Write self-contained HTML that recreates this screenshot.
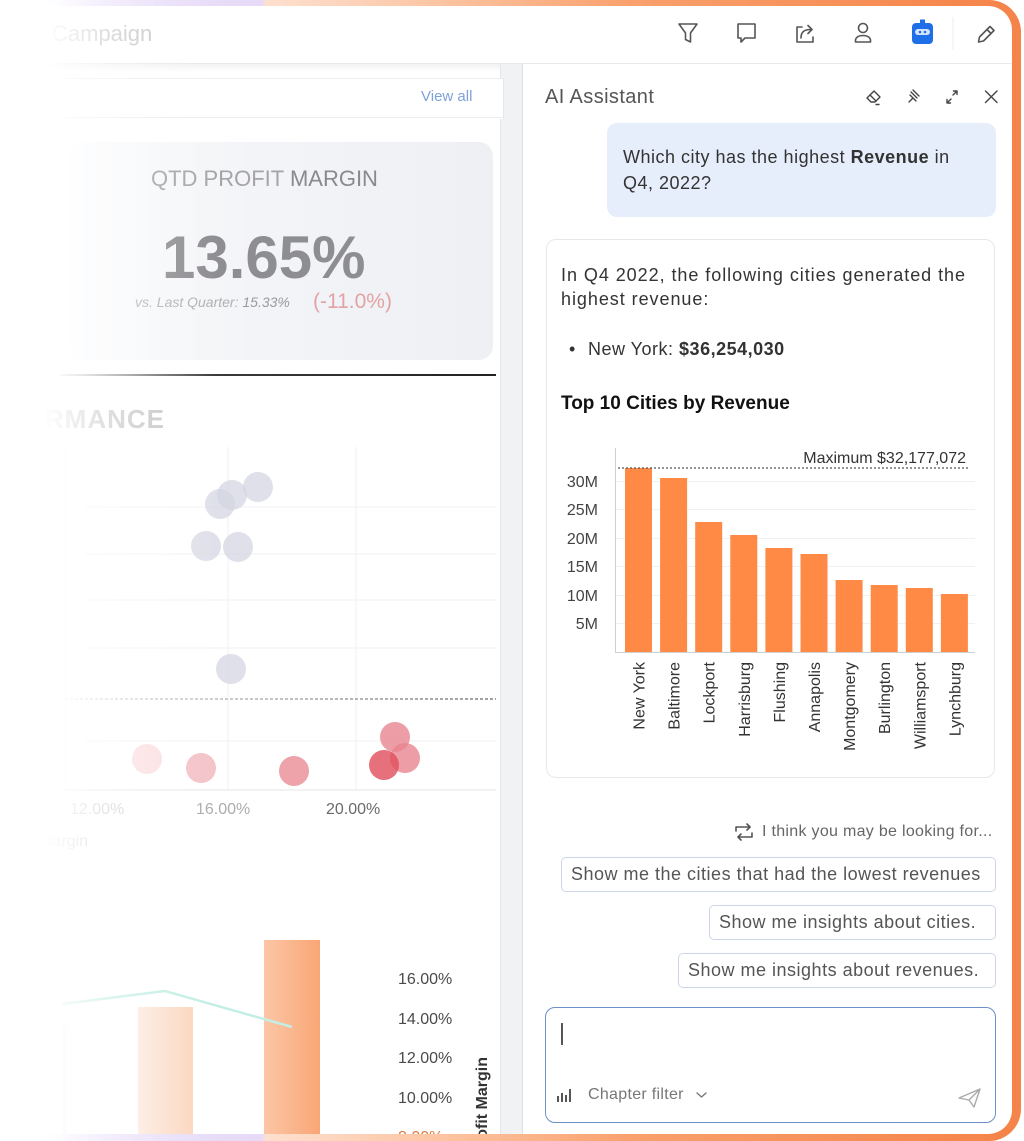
<!DOCTYPE html>
<html>
<head>
<meta charset="utf-8">
<style>
html,body{margin:0;padding:0;}
body{width:1024px;height:1141px;position:relative;overflow:hidden;background:#fff;font-family:"Liberation Sans",Arial,sans-serif;color:#333;}
.a{position:absolute;white-space:nowrap;}
.btn{position:absolute;height:35px;box-sizing:border-box;border:1.5px solid #cdd6e8;border-radius:5px;background:#fff;font-size:18px;letter-spacing:0.5px;color:#555;line-height:32px;padding-left:9px;white-space:nowrap;}
</style>
</head>
<body>

<!-- header lines -->
<div class="a" style="left:0;top:63px;width:1012px;height:1px;background:#e9e9eb;"></div>
<div class="a" style="left:0;top:64px;width:522px;height:8px;background:linear-gradient(180deg,rgba(0,0,0,0.05),rgba(0,0,0,0));"></div>

<!-- left header title -->
<div class="a" style="left:52px;top:19px;font-size:22px;line-height:30px;color:#c6c6c8;">Campaign</div>

<!-- scrollbar strip + separator -->
<div class="a" style="left:500px;top:64px;width:22px;height:1072px;background:#f1f2f4;border-left:1px solid #e6e7ea;"></div>
<div class="a" style="left:522px;top:64px;width:1px;height:1072px;background:#dedfe2;"></div>

<!-- View all card -->
<div class="a" style="left:60px;top:78px;width:443px;height:40px;border-top:1px solid #eceef1;border-right:1px solid #e6e7ea;background:#fff;"></div>
<div class="a" style="left:60px;top:117px;width:443px;height:1px;background:#ecedf0;"></div>
<div class="a" style="left:421px;top:87px;font-size:15px;line-height:20px;color:#7ea1d8;">View all</div>

<!-- KPI card -->
<div class="a" style="left:70px;top:142px;width:423px;height:218px;border-radius:14px;background:linear-gradient(90deg,#fafbfc 0%,#f3f4f7 45%,#eef0f4 100%);"></div>
<div class="a" style="left:151px;top:165px;font-size:22px;line-height:28px;color:#a4a4a6;">QTD PROFIT <span style="color:#8a8a8c;">MARGIN</span></div>
<div class="a" style="left:162px;top:223px;font-size:60px;line-height:70px;font-weight:bold;color:#8e8e92;">13.65%</div>
<div class="a" style="left:135px;top:293px;font-size:14px;line-height:18px;font-style:italic;color:#b0b0b2;">vs. Last Quarter: <span style="color:#9a9a9c;">15.33%</span></div>
<div class="a" style="left:313px;top:289px;font-size:21px;line-height:26px;color:#e3a3a5;">(-11.0%)</div>

<!-- dark divider -->
<div class="a" style="left:60px;top:374px;width:436px;height:2px;background:linear-gradient(90deg,#cfcfcf,#3a3a3a 35%,#222);"></div>

<!-- PERFORMANCE (clipped) -->
<div class="a" style="left:0;top:400px;width:200px;height:36px;overflow:hidden;">
  <div class="a" style="right:35px;top:4px;font-size:26px;line-height:30px;font-weight:bold;letter-spacing:1px;color:#c8c8ca;">PERFORMANCE</div>
</div>

<!-- Left charts -->
<svg class="a" style="left:0;top:0;" width="522" height="1141" viewBox="0 0 522 1141">
  <g stroke="#f2f2f4" stroke-width="1">
    <line x1="65" y1="447" x2="65" y2="790"/>
    <line x1="228" y1="447" x2="228" y2="790"/>
    <line x1="356" y1="447" x2="356" y2="790"/>
    <line x1="85" y1="507" x2="496" y2="507"/>
    <line x1="85" y1="554" x2="496" y2="554"/>
    <line x1="85" y1="600" x2="496" y2="600"/>
    <line x1="85" y1="648" x2="496" y2="648"/>
    <line x1="85" y1="741" x2="496" y2="741"/>
  </g>
  <line x1="65" y1="790" x2="496" y2="790" stroke="#e4e4e6" stroke-width="1"/>
  <defs>
    <linearGradient id="dg" x1="65" y1="0" x2="496" y2="0" gradientUnits="userSpaceOnUse">
      <stop offset="0" stop-color="#d8d8d8"/>
      <stop offset="1" stop-color="#666"/>
    </linearGradient>
    <linearGradient id="b2" x1="0" y1="0" x2="1" y2="0">
      <stop offset="0" stop-color="#fde9dc"/>
      <stop offset="1" stop-color="#fbd5bd"/>
    </linearGradient>
    <linearGradient id="b3" x1="0" y1="0" x2="1" y2="0">
      <stop offset="0" stop-color="#fcc6a6"/>
      <stop offset="1" stop-color="#f9a676"/>
    </linearGradient>
  </defs>
  <line x1="65" y1="699" x2="496" y2="699" stroke="url(#dg)" stroke-width="1.3" stroke-dasharray="3,2"/>
  <!-- gray circles -->
  <g fill="#d3d4e0" fill-opacity="0.72">
    <circle cx="258" cy="487" r="15"/>
    <circle cx="232" cy="495" r="15"/>
    <circle cx="220" cy="504" r="15"/>
    <circle cx="206" cy="546" r="15"/>
    <circle cx="238" cy="547" r="15"/>
    <circle cx="231" cy="669" r="15"/>
  </g>
  <!-- red circles -->
  <circle cx="147" cy="759" r="15" fill="#fbe0e2"/>
  <circle cx="201" cy="768" r="15" fill="#f4c3c8"/>
  <circle cx="294" cy="771" r="15" fill="#eea3ab"/>
  <circle cx="395" cy="737" r="15" fill="#e8858f" fill-opacity="0.8"/>
  <circle cx="405" cy="758" r="15" fill="#e8858f" fill-opacity="0.8"/>
  <circle cx="384" cy="765" r="15" fill="#e04d5c" fill-opacity="0.8"/>
  <!-- scatter x labels -->
  <g font-size="16" font-family="Liberation Sans, Arial, sans-serif">
    <text x="70" y="814" fill="#d0d0d2">12.00%</text>
    <text x="196" y="814" fill="#acacae">16.00%</text>
    <text x="326" y="814" fill="#6a6a6c">20.00%</text>
    <text x="88" y="846" fill="#d4d4d6" text-anchor="end">Profit Margin</text>
  </g>
  <!-- bottom chart -->
  <rect x="62" y="1025" width="5" height="110" fill="#f4f0fb"/>
  <rect x="138" y="1007" width="55" height="128" fill="url(#b2)"/>
  <rect x="264" y="940" width="56" height="195" fill="url(#b3)"/>
  <polyline points="62,1004 165,991 292,1027" fill="none" stroke="#c4eee5" stroke-width="2.5"/>
  <g font-size="16" font-family="Liberation Sans, Arial, sans-serif" fill="#4a4a4c">
    <text x="398" y="984">16.00%</text>
    <text x="398" y="1024">14.00%</text>
    <text x="398" y="1063">12.00%</text>
    <text x="398" y="1103">10.00%</text>
    <text x="398" y="1142" fill="#d9793f">8.00%</text>
  </g>
  <text transform="translate(487,1057) rotate(-90)" text-anchor="end" font-size="16" font-weight="bold" font-family="Liberation Sans, Arial, sans-serif" fill="#333">Profit Margin</text>
</svg>

<!-- Toolbar icons -->
<svg class="a" style="left:0;top:0;" width="1024" height="130" viewBox="0 0 1024 130">
  <g fill="none" stroke="#555" stroke-width="1.6" stroke-linejoin="round" stroke-linecap="round">
    <path d="M679 24 L697 24 L690.5 33 L690.5 42 L685.5 39.5 L685.5 33 Z"/>
    <path d="M738 24 H755 V38 H745 L741 42 V38 H738 Z"/>
    <path d="M802 27 H797 V42 H813 V37"/>
    <path d="M801 38 C801 32 804 29.5 811 29.5"/>
    <path d="M808 25.5 L812 29.5 L808 33.5"/>
    <circle cx="863" cy="28" r="4.5"/>
    <path d="M855.5 42 V40.5 C855.5 37.5 858.5 35.5 863 35.5 C867.5 35.5 870.5 37.5 870.5 40.5 V42 Z"/>
    <path d="M978.5 42 L979.5 37 L990 26.5 L994 30.5 L983.5 41 Z"/>
    <path d="M987 29.5 L991 33.5"/>
  </g>
  <rect x="920" y="19.5" width="5" height="4" fill="#1e6fe8"/>
  <rect x="912" y="23" width="21" height="21" rx="4" fill="#1e6fe8"/>
  <rect x="915" y="29" width="15" height="6" rx="3" fill="#d6e4fb"/>
  <circle cx="920" cy="32" r="1.3" fill="#1e6fe8"/>
  <circle cx="925" cy="32" r="1.3" fill="#1e6fe8"/>
  <line x1="953" y1="17" x2="953" y2="50" stroke="#ececee" stroke-width="1"/>
  <!-- AI assistant header icons -->
  <g fill="none" stroke="#444" stroke-width="1.4" stroke-linecap="round" stroke-linejoin="round">
    <path d="M867 98 L874 91 L880 97 L875 102 H871 Z"/>
    <path d="M870 95 L876 101"/>
    <path d="M876 104.5 H879"/>
    <path d="M911 92 L917 98 M913 90 L919 96 M910 95 L916 101 M909 102 L913 98"/>
    <path d="M947 103 L951 99 M947 103 V99.5 M947 103 H950.5"/>
    <path d="M957 91 L953 95 M957 91 V94.5 M957 91 H953.5"/>
    <path d="M985.5 91 L997 102.5 M997 91 L985.5 102.5"/>
  </g>
</svg>

<!-- AI Assistant title -->
<div class="a" style="left:545px;top:84px;font-size:20px;line-height:26px;letter-spacing:0.4px;color:#555;">AI Assistant</div>

<!-- user bubble -->
<div class="a" style="left:607px;top:123px;width:389px;height:94px;border-radius:10px;background:#e6eefb;"></div>
<div class="a" style="left:623px;top:144px;font-size:18px;line-height:26px;letter-spacing:0.5px;color:#333;">Which city has the highest <b>Revenue</b> in<br>Q4, 2022?</div>

<!-- response card -->
<div class="a" style="left:546px;top:239px;width:449px;height:539px;box-sizing:border-box;border:1.5px solid #e6e8ec;border-radius:10px;background:#fff;"></div>
<div class="a" style="left:561px;top:263px;font-size:18px;line-height:24px;letter-spacing:0.95px;color:#333;">In Q4 2022, the following cities generated the<br>highest revenue:</div>
<div class="a" style="left:569px;top:337px;font-size:18px;line-height:24px;color:#333;">•</div>
<div class="a" style="left:588px;top:337px;font-size:18px;line-height:24px;letter-spacing:0.5px;color:#333;">New York: <b>$36,254,030</b></div>
<div class="a" style="left:561px;top:391px;font-size:19px;line-height:26px;font-weight:bold;color:#111;">Top 10 Cities by Revenue</div>

<!-- bar chart -->
<svg class="a" style="left:0;top:0;" width="1024" height="800" viewBox="0 0 1024 800">
  <g stroke="#f1f1f3" stroke-width="1">
    <line x1="615" y1="481.5" x2="975" y2="481.5"/>
    <line x1="615" y1="509.5" x2="975" y2="509.5"/>
    <line x1="615" y1="538.5" x2="975" y2="538.5"/>
    <line x1="615" y1="566.5" x2="975" y2="566.5"/>
    <line x1="615" y1="595.5" x2="975" y2="595.5"/>
    <line x1="615" y1="623.5" x2="975" y2="623.5"/>
  </g>
  <line x1="615.5" y1="448" x2="615.5" y2="652" stroke="#cfcfd2" stroke-width="1"/>
  <line x1="615" y1="652.5" x2="975" y2="652.5" stroke="#cfcfd2" stroke-width="1"/>
  <g font-size="16" font-family="Liberation Sans, Arial, sans-serif" fill="#444" text-anchor="end">
    <text x="598" y="487">30M</text>
    <text x="598" y="515">25M</text>
    <text x="598" y="544">20M</text>
    <text x="598" y="572">15M</text>
    <text x="598" y="601">10M</text>
    <text x="598" y="629">5M</text>
  </g>
  <g fill="#ff8a45">
    <rect x="625" y="468" width="27" height="184"/>
    <rect x="660.1" y="478" width="27" height="174"/>
    <rect x="695.2" y="522" width="27" height="130"/>
    <rect x="730.3" y="535" width="27" height="117"/>
    <rect x="765.4" y="548" width="27" height="104"/>
    <rect x="800.5" y="554" width="27" height="98"/>
    <rect x="835.6" y="580" width="27" height="72"/>
    <rect x="870.7" y="585" width="27" height="67"/>
    <rect x="905.8" y="588" width="27" height="64"/>
    <rect x="940.9" y="594" width="27" height="58"/>
  </g>
  <line x1="618" y1="468" x2="968" y2="468" stroke="#555" stroke-width="1.3" stroke-dasharray="2,2"/>
  <text x="966" y="463" text-anchor="end" font-size="16" font-family="Liberation Sans, Arial, sans-serif" fill="#333">Maximum $32,177,072</text>
  <g font-size="16" font-family="Liberation Sans, Arial, sans-serif" fill="#333" text-anchor="end">
    <text transform="translate(644.5,662) rotate(-90)">New York</text>
    <text transform="translate(679.6,662) rotate(-90)">Baltimore</text>
    <text transform="translate(714.7,662) rotate(-90)">Lockport</text>
    <text transform="translate(749.8,662) rotate(-90)">Harrisburg</text>
    <text transform="translate(784.9,662) rotate(-90)">Flushing</text>
    <text transform="translate(820,662) rotate(-90)">Annapolis</text>
    <text transform="translate(855.1,662) rotate(-90)">Montgomery</text>
    <text transform="translate(890.2,662) rotate(-90)">Burlington</text>
    <text transform="translate(925.3,662) rotate(-90)">Williamsport</text>
    <text transform="translate(960.4,662) rotate(-90)">Lynchburg</text>
  </g>
</svg>

<!-- suggestions -->
<svg class="a" style="left:733px;top:822px;" width="22" height="20" viewBox="0 0 22 20">
  <g fill="none" stroke="#555" stroke-width="1.6" stroke-linecap="round" stroke-linejoin="round">
    <path d="M3 9 V5 H17"/>
    <path d="M14 2 L17 5 L14 8"/>
    <path d="M19 11 V15 H5"/>
    <path d="M8 12 L5 15 L8 18"/>
  </g>
</svg>
<div class="a" style="left:762px;top:821px;font-size:16px;line-height:22px;letter-spacing:0.3px;color:#666;">I think you may be looking for...</div>

<div class="btn" style="left:561px;top:857px;width:435px;">Show me the cities that had the lowest revenues</div>
<div class="btn" style="left:709px;top:905px;width:287px;">Show me insights about cities.</div>
<div class="btn" style="left:678px;top:953px;width:318px;">Show me insights about revenues.</div>

<!-- input box -->
<div class="a" style="left:545px;top:1007px;width:451px;height:116px;box-sizing:border-box;border:1.5px solid #6d90c8;border-radius:10px;background:#fff;"></div>
<div class="a" style="left:561px;top:1023px;width:1.5px;height:22px;background:#555;"></div>
<svg class="a" style="left:555px;top:1086px;" width="160" height="20" viewBox="0 0 160 20">
  <g fill="#555">
    <rect x="2" y="10" width="2" height="6"/>
    <rect x="6" y="7" width="2" height="9"/>
    <rect x="10" y="9" width="2" height="7"/>
    <rect x="14" y="3" width="2" height="13"/>
  </g>
  <path d="M142 7 L146.5 11 L151 7" fill="none" stroke="#777" stroke-width="1.4" stroke-linecap="round" stroke-linejoin="round"/>
</svg>
<div class="a" style="left:588px;top:1084px;font-size:16px;line-height:22px;letter-spacing:0.3px;color:#777;">Chapter filter</div>
<svg class="a" style="left:956px;top:1086px;" width="28" height="24" viewBox="0 0 28 24">
  <path d="M3 12 L24 3 L18 21 L13 14 Z M13 14 L24 3" fill="none" stroke="#aaa" stroke-width="1.4" stroke-linejoin="round"/>
</svg>

<!-- gradient frame border -->
<svg class="a" style="left:0;top:0;" width="1024" height="1141" viewBox="0 0 1024 1141">
  <defs>
    <linearGradient id="fr" x1="0" y1="0" x2="1024" y2="0" gradientUnits="userSpaceOnUse">
      <stop offset="0" stop-color="#ffffff"/>
      <stop offset="0.04" stop-color="#f4effb"/>
      <stop offset="0.08" stop-color="#ece3fa"/>
      <stop offset="0.255" stop-color="#e6daf8"/>
      <stop offset="0.26" stop-color="#fde0cf"/>
      <stop offset="0.41" stop-color="#fcc8a8"/>
      <stop offset="0.62" stop-color="#f9a06c"/>
      <stop offset="0.98" stop-color="#f5844a"/>
    </linearGradient>
  </defs>
  <path fill="url(#fr)" fill-rule="evenodd" d="M -28 0 H 989 A 32 32 0 0 1 1021 32 V 1109 A 32 32 0 0 1 989 1141 H -28 A 32 32 0 0 1 -60 1109 V 32 A 32 32 0 0 1 -28 0 Z M -36 6 H 988 A 24 24 0 0 1 1012 30 V 1110 A 24 24 0 0 1 988 1134 H -36 A 24 24 0 0 1 -60 1110 V 30 A 24 24 0 0 1 -36 6 Z"/>
</svg>

<!-- left fade overlay -->
<div class="a" style="left:0;top:0;width:240px;height:1141px;background:linear-gradient(90deg,rgba(255,255,255,1) 0px,rgba(255,255,255,1) 45px,rgba(255,255,255,0.75) 70px,rgba(255,255,255,0.4) 110px,rgba(255,255,255,0.15) 160px,rgba(255,255,255,0) 220px);"></div>

</body>
</html>
